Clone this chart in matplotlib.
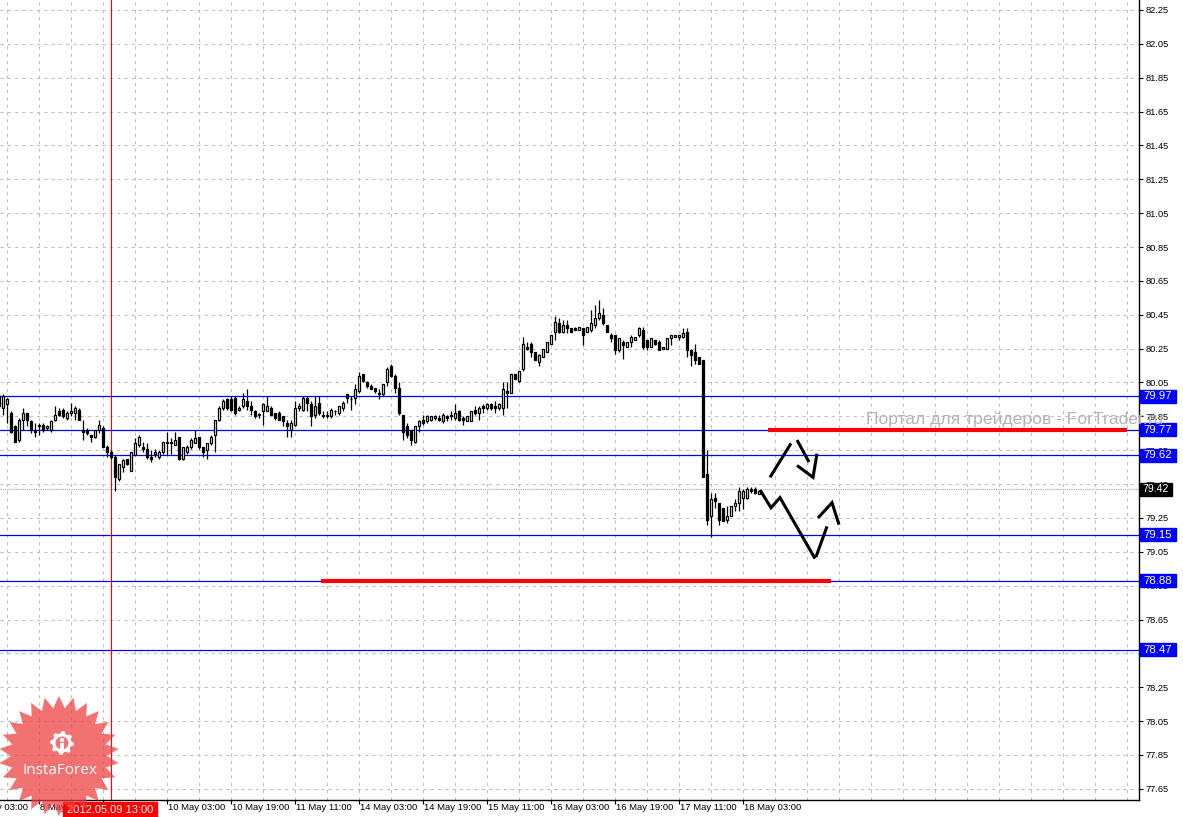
import numpy as np
import matplotlib
matplotlib.use("Agg")
import matplotlib.pyplot as plt
from matplotlib.patches import Rectangle, Polygon, Circle
import matplotlib.transforms as mtransforms

plt.rcParams['font.family'] = ['Liberation Sans', 'DejaVu Sans']

# ---------------- data (hourly OHLC) ----------------
opens = [79.97, 79.90, 79.92, 79.87, 79.79, 79.71, 79.83, 79.87, 79.82, 79.77,
         79.79, 79.80, 79.78, 79.77, 79.83, 79.88, 79.89, 79.84, 79.87, 79.87,
         79.89, 79.77, 79.77, 79.74, 79.73, 79.77, 79.78, 79.67, 79.64, 79.61,
         79.48, 79.55, 79.60, 79.53, 79.62, 79.68, 79.67, 79.66, 79.61, 79.63,
         79.61, 79.64, 79.70, 79.70, 79.68, 79.73, 79.60, 79.64, 79.67, 79.69,
         79.73, 79.67, 79.65, 79.69, 79.74, 79.83, 79.90, 79.95, 79.95, 79.96,
         79.89, 79.91, 79.94, 79.91, 79.88, 79.86, 79.88, 79.88, 79.90, 79.87,
         79.87, 79.85, 79.81, 79.77, 79.80, 79.90, 79.89, 79.96, 79.92, 79.86,
         79.93, 79.86, 79.85, 79.85, 79.88, 79.87, 79.90, 79.98, 79.95, 79.96,
         80.00, 80.10, 80.05, 80.03, 80.02, 79.99, 79.98, 80.05, 80.15, 80.09,
         80.02, 79.86, 79.79, 79.77, 79.70, 79.79, 79.83, 79.82, 79.83, 79.84,
         79.84, 79.82, 79.85, 79.85, 79.84, 79.88, 79.84, 79.82, 79.82, 79.89,
         79.87, 79.91, 79.90, 79.92, 79.91, 79.90, 79.90, 80.00, 79.99, 80.10,
         80.06, 80.13, 80.26, 80.28, 80.23, 80.17, 80.20, 80.23, 80.28, 80.35,
         80.40, 80.35, 80.39, 80.37, 80.37, 80.36, 80.37, 80.35, 80.36, 80.39,
         80.43, 80.45, 80.39, 80.33, 80.33, 80.24, 80.29, 80.26, 80.29, 80.30,
         80.33, 80.36, 80.30, 80.26, 80.30, 80.29, 80.25, 80.25, 80.31, 80.32,
         80.32, 80.32, 80.35, 80.24, 80.23, 80.20, 80.18, 79.51, 79.26, 79.37,
         79.34, 79.31, 79.24, 79.26, 79.32, 79.34, 79.37, 79.37, 79.42, 79.42,
         79.39]
highs = [79.99, 79.98, 79.96, 79.88, 79.80, 79.84, 79.90, 79.87, 79.83, 79.81,
         79.81, 79.81, 79.80, 79.83, 79.91, 79.90, 79.90, 79.88, 79.93, 79.91,
         79.90, 79.83, 79.78, 79.74, 79.77, 79.83, 79.79, 79.68, 79.65, 79.62,
         79.57, 79.60, 79.60, 79.64, 79.72, 79.74, 79.70, 79.69, 79.65, 79.66,
         79.65, 79.70, 79.76, 79.72, 79.76, 79.73, 79.67, 79.68, 79.72, 79.77,
         79.73, 79.67, 79.69, 79.74, 79.83, 79.91, 79.95, 79.96, 79.97, 79.97,
         79.91, 79.99, 80.01, 79.94, 79.89, 79.87, 79.93, 79.97, 79.91, 79.87,
         79.88, 79.85, 79.83, 79.83, 79.94, 79.93, 79.97, 79.97, 79.94, 79.97,
         79.97, 79.88, 79.88, 79.90, 79.89, 79.91, 79.94, 79.98, 79.97, 80.04,
         80.11, 80.10, 80.06, 80.04, 80.02, 80.01, 80.04, 80.14, 80.16, 80.10,
         80.05, 79.86, 79.81, 79.77, 79.79, 79.83, 79.86, 79.86, 79.85, 79.86,
         79.86, 79.87, 79.86, 79.88, 79.92, 79.89, 79.85, 79.85, 79.88, 79.91,
         79.91, 79.92, 79.93, 79.93, 79.94, 79.93, 80.05, 80.05, 80.10, 80.10,
         80.12, 80.32, 80.29, 80.29, 80.23, 80.22, 80.25, 80.29, 80.33, 80.44,
         80.43, 80.42, 80.42, 80.37, 80.38, 80.38, 80.37, 80.38, 80.48, 80.51,
         80.54, 80.49, 80.39, 80.34, 80.33, 80.31, 80.30, 80.29, 80.33, 80.32,
         80.38, 80.38, 80.30, 80.31, 80.30, 80.30, 80.26, 80.31, 80.33, 80.33,
         80.33, 80.37, 80.37, 80.25, 80.28, 80.20, 80.18, 79.65, 79.40, 79.40,
         79.34, 79.31, 79.32, 79.32, 79.36, 79.43, 79.42, 79.43, 79.43, 79.43,
         79.41]
lows = [79.90, 79.86, 79.81, 79.75, 79.70, 79.70, 79.77, 79.79, 79.75, 79.73,
        79.74, 79.76, 79.77, 79.76, 79.82, 79.85, 79.84, 79.83, 79.85, 79.83,
        79.83, 79.71, 79.74, 79.70, 79.72, 79.75, 79.67, 79.61, 79.60, 79.41,
        79.47, 79.52, 79.56, 79.53, 79.62, 79.67, 79.64, 79.60, 79.58, 79.61,
        79.60, 79.63, 79.62, 79.63, 79.68, 79.59, 79.59, 79.63, 79.66, 79.69,
        79.66, 79.61, 79.60, 79.68, 79.64, 79.82, 79.89, 79.89, 79.88, 79.86,
        79.88, 79.90, 79.89, 79.86, 79.84, 79.84, 79.80, 79.88, 79.86, 79.83,
        79.83, 79.79, 79.73, 79.73, 79.79, 79.88, 79.88, 79.88, 79.79, 79.84,
        79.86, 79.84, 79.84, 79.84, 79.86, 79.86, 79.88, 79.93, 79.89, 79.92,
        79.99, 80.05, 80.02, 80.01, 79.99, 79.95, 79.97, 80.03, 80.08, 79.99,
        79.86, 79.71, 79.72, 79.68, 79.69, 79.76, 79.80, 79.81, 79.82, 79.83,
        79.82, 79.81, 79.82, 79.83, 79.83, 79.82, 79.80, 79.82, 79.82, 79.86,
        79.83, 79.87, 79.89, 79.89, 79.87, 79.89, 79.86, 79.90, 79.99, 80.07,
        80.05, 80.12, 80.24, 80.20, 80.18, 80.15, 80.20, 80.23, 80.28, 80.30,
        80.34, 80.34, 80.34, 80.35, 80.36, 80.36, 80.27, 80.35, 80.35, 80.37,
        80.42, 80.39, 80.35, 80.29, 80.22, 80.23, 80.19, 80.26, 80.26, 80.30,
        80.32, 80.25, 80.24, 80.26, 80.27, 80.24, 80.25, 80.25, 80.27, 80.32,
        80.30, 80.31, 80.20, 80.15, 80.16, 80.16, 79.49, 79.21, 79.14, 79.31,
        79.21, 79.23, 79.22, 79.26, 79.29, 79.29, 79.30, 79.36, 79.40, 79.39,
        79.39]
closes = [79.91, 79.97, 79.95, 79.76, 79.70, 79.83, 79.87, 79.83, 79.77, 79.76,
          79.80, 79.77, 79.79, 79.82, 79.86, 79.86, 79.85, 79.87, 79.88, 79.90,
          79.83, 79.76, 79.75, 79.73, 79.77, 79.80, 79.67, 79.64, 79.61, 79.49,
          79.57, 79.59, 79.57, 79.64, 79.69, 79.73, 79.66, 79.61, 79.60, 79.64,
          79.64, 79.70, 79.69, 79.69, 79.71, 79.60, 79.67, 79.67, 79.71, 79.72,
          79.67, 79.64, 79.69, 79.73, 79.83, 79.90, 79.94, 79.90, 79.89, 79.87,
          79.90, 79.95, 79.91, 79.89, 79.85, 79.86, 79.92, 79.91, 79.86, 79.84,
          79.83, 79.82, 79.79, 79.81, 79.90, 79.91, 79.96, 79.93, 79.85, 79.91,
          79.87, 79.85, 79.86, 79.89, 79.88, 79.91, 79.93, 79.96, 79.95, 80.01,
          80.09, 80.06, 80.03, 80.01, 80.00, 79.98, 80.04, 80.13, 80.09, 80.02,
          79.87, 79.76, 79.74, 79.71, 79.79, 79.82, 79.81, 79.85, 79.85, 79.85,
          79.83, 79.86, 79.84, 79.86, 79.87, 79.83, 79.83, 79.85, 79.88, 79.87,
          79.90, 79.90, 79.92, 79.90, 79.90, 79.92, 80.01, 79.99, 80.10, 80.07,
          80.12, 80.28, 80.25, 80.23, 80.18, 80.21, 80.25, 80.29, 80.33, 80.41,
          80.35, 80.39, 80.37, 80.35, 80.36, 80.38, 80.33, 80.38, 80.40, 80.43,
          80.46, 80.40, 80.35, 80.31, 80.24, 80.31, 80.27, 80.29, 80.32, 80.32,
          80.37, 80.26, 80.26, 80.31, 80.28, 80.24, 80.26, 80.31, 80.33, 80.33,
          80.33, 80.34, 80.24, 80.21, 80.18, 80.16, 79.49, 79.24, 79.36, 79.35,
          79.24, 79.23, 79.26, 79.32, 79.34, 79.41, 79.41, 79.42, 79.41, 79.40,
          79.41]

x_label_bars = [-5, 11, 27, 43, 59, 75, 91, 107, 123, 139, 155, 171, 187]
x_labels = ["8 May 03:00", "8 May 19:00", "9 May 11:00", "10 May 03:00",
            "10 May 19:00", "11 May 11:00", "14 May 03:00", "14 May 19:00",
            "15 May 11:00", "16 May 03:00", "16 May 19:00", "17 May 11:00",
            "18 May 03:00"]
y_ticks = [77.65, 77.85, 78.05, 78.25, 78.45, 78.65, 78.85, 79.05, 79.25,
           79.45, 79.65, 79.85, 80.05, 80.25, 80.45, 80.65, 80.85, 81.05,
           81.25, 81.45, 81.65, 81.85, 82.05, 82.25]
level_lines = [79.97, 79.77, 79.62, 79.15, 78.88, 78.47]
bid_price = 79.42
cursor_bar = 29
cursor_label = "2012.05.09 13:00"
# red target segments: (price, start bar, end bar)
red_segments = [(79.77, 193.25, 283.0), (78.88, 81.5, 209.0)]
# hand-drawn forecast strokes (bar, price)
stroke_up1_bars = [193.75, 199.0]
stroke_up1_prices = [79.49, 79.69]
stroke_up2_bars = [200.5, 203.5]
stroke_up2_prices = [79.71, 79.58]
stroke_up3_bars = [200.5, 204.5, 205.5]
stroke_up3_prices = [79.56, 79.49, 79.63]
stroke_dn1_bars = [191.25, 194.0, 196.25, 205.0]
stroke_dn1_prices = [79.415, 79.31, 79.37, 79.01]
stroke_dn2_bars = [205.25, 208.0]
stroke_dn2_prices = [79.02, 79.20]
stroke_dn3_bars = [205.75, 209.25, 211.0]
stroke_dn3_prices = [79.25, 79.34, 79.21]

# ---------------- figure ----------------
W, H = 1183, 817
fig = plt.figure(figsize=(W / 100, H / 100), dpi=100)
fig.patch.set_facecolor('white')
ax = fig.add_axes([0, 17 / H, 1139 / W, 800 / H])
ax.set_xlim(1.25, 286)
ax.set_ylim(77.584, 82.309)
ax.set_facecolor('white')

grid_c = '#c2bcc2'
for b in range(3, 286, 8):
    ax.axvline(b, color=grid_c, lw=0.75, ls=(0, (3, 4)), zorder=0)
for lv in y_ticks:
    ax.axhline(lv, color=grid_c, lw=0.75, ls=(0, (3, 4)), zorder=0)

# candles
n = len(opens)
xs = np.arange(1, n + 1)
o = np.array(opens); c = np.array(closes)
ax.vlines(xs, lows, highs, color='black', lw=0.9, zorder=3)
bottoms = np.minimum(o, c)
heights = np.maximum(np.abs(c - o), 0.003)
cols = ['white' if cc >= oo else 'black' for oo, cc in zip(o, c)]
ax.bar(xs, heights, bottom=bottoms, width=0.5, color=cols,
       edgecolor='black', linewidth=0.9, zorder=4)

# levels
for lv in level_lines:
    ax.axhline(lv, color='#0000ff', lw=0.9, zorder=2)
ax.axhline(bid_price, color='#9aa3a3', lw=0.8, ls=(0, (1, 1)), zorder=2)
ax.axvline(cursor_bar, color='#ff0000', lw=0.8, zorder=2)

for p, b0, b1 in red_segments:
    ax.hlines(p, b0, b1, color='#ff0000', lw=3.0, zorder=5)

for bx, py in [(stroke_up1_bars, stroke_up1_prices), (stroke_up2_bars, stroke_up2_prices),
               (stroke_up3_bars, stroke_up3_prices), (stroke_dn1_bars, stroke_dn1_prices),
               (stroke_dn2_bars, stroke_dn2_prices), (stroke_dn3_bars, stroke_dn3_prices)]:
    ax.plot(bx, py, color='black', lw=2.2, zorder=6, solid_capstyle='butt',
            solid_joinstyle='miter')

# axes styling
for s in ['left', 'top']:
    ax.spines[s].set_visible(False)
for s in ['right', 'bottom']:
    ax.spines[s].set_color('black')
    ax.spines[s].set_linewidth(1.0)
ax.yaxis.tick_right()
ax.set_yticks(y_ticks)
ax.set_yticklabels(['%.2f' % v for v in y_ticks])
ax.tick_params(axis='y', direction='out', length=3, width=0.8, pad=2,
               labelsize=6.7, colors='black')
ax.set_xticks(x_label_bars[1:])
ax.set_xticklabels([''] * (len(x_label_bars) - 1))
ax.tick_params(axis='x', direction='out', length=3, width=0.8)

blend = mtransforms.blended_transform_factory(ax.transData, ax.transAxes)
for b, lab in zip(x_label_bars, x_labels):
    tr = mtransforms.offset_copy(blend, fig=fig, x=1.5, y=-2.5, units='dots')
    ax.text(b, 0, lab, transform=tr, ha='left', va='top', fontsize=6.8,
            color='black', clip_on=False, zorder=1)

# right-axis level labels
blend_y = mtransforms.blended_transform_factory(ax.transAxes, ax.transData)
px_per_price = 800 / (82.309 - 77.584)
box_h = 13 / px_per_price
for lv in level_lines:
    ax.add_patch(Rectangle((1.0009, lv - box_h / 2), 36 / 1139, box_h,
                           transform=blend_y, color='#0000ff', clip_on=False, zorder=10))
    ax.text(1.0009 + 18 / 1139, lv, '%.2f' % lv, transform=blend_y, ha='center',
            va='center', color='white', fontsize=8.2, clip_on=False, zorder=11)
ax.add_patch(Rectangle((1.0009, bid_price - box_h / 2), 32 / 1139, box_h,
                       transform=blend_y, color='black', clip_on=False, zorder=10))
ax.text(1.0009 + 16 / 1139, bid_price, '%.2f' % bid_price, transform=blend_y,
        ha='center', va='center', color='white', fontsize=7.6, clip_on=False, zorder=11)

# ---------------- overlay (pixel coordinates) ----------------
ov = fig.add_axes([0, 0, 1, 1], zorder=5)
ov.set_xlim(0, W)
ov.set_ylim(H, 0)
ov.axis('off')
ov.patch.set_alpha(0)

ov.add_patch(Rectangle((63, 802), 94, 16, color='#ff0000', zorder=3))
ov.text(110, 810, cursor_label, ha='center', va='center', color='white',
        fontsize=8, zorder=4)

ov.text(866, 419, 'Портал для трейдеров - ForTrader.ru', ha='left', va='center',
        color='#b4b4b4', fontsize=12.6, zorder=1)

# InstaForex badge
cx, cy = 59, 756
nsp = 26
ang = np.linspace(0, 2 * np.pi, 2 * nsp, endpoint=False) - np.pi / 2
rad = np.where(np.arange(2 * nsp) % 2 == 0, 60, 48)
star = np.column_stack([cx + rad * np.cos(ang), cy + rad * np.sin(ang)])
ov.add_patch(Polygon(star, closed=True, facecolor='#ee3b3b', alpha=0.72,
                     edgecolor='none', zorder=6))
gx, gy = 62, 743
ga = np.linspace(0, 2 * np.pi, 32, endpoint=False)
gr = np.where((np.arange(32) // 2) % 2 == 0, 12, 9.5)
gear = np.column_stack([gx + gr * np.cos(ga), gy + gr * np.sin(ga)])
ov.add_patch(Polygon(gear, closed=True, facecolor='white', edgecolor='none', zorder=7))
ov.add_patch(Circle((gx, gy), 6.5, facecolor='#f37272', edgecolor='none', zorder=8))
ov.add_patch(Circle((gx, gy - 3), 2.2, facecolor='white', edgecolor='none', zorder=9))
ov.add_patch(Rectangle((gx - 1.6, gy), 3.2, 10, facecolor='white', edgecolor='none', zorder=9))
ov.text(60, 770, 'InstaForex', ha='center', va='center', color='white',
        fontsize=11, family=['Open Sans', 'DejaVu Sans'], zorder=9)

fig.savefig('out.png', dpi=100)
